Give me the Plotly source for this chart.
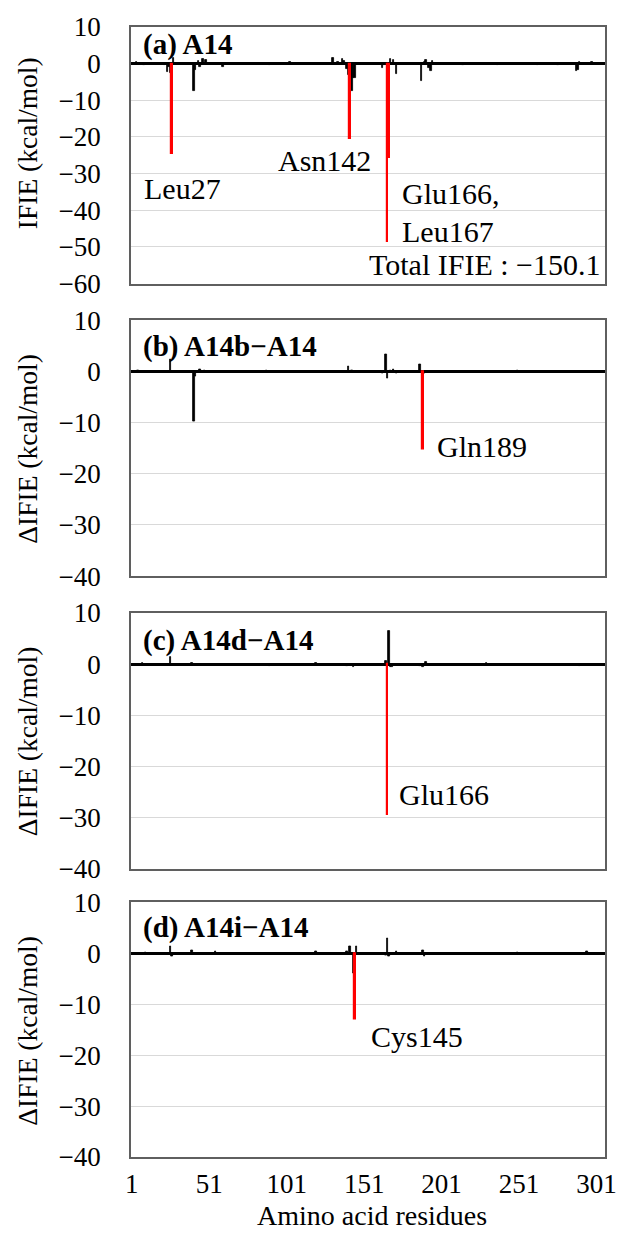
import plotly.graph_objects as go

# ---------------- data ----------------
n_residues = 306
x_ticks = [1, 51, 101, 151, 201, 251, 301]

# Panel (a) IFIE of A14
a_res = [4, 9, 19, 22, 24, 25, 26, 28, 41, 42, 44, 45, 47, 49, 60, 75, 90, 103, 118,
         131, 134, 137, 138, 140, 141, 143, 144, 145, 163, 164, 168, 170, 172,
         188, 190, 191, 193, 194, 195, 215, 237, 250, 263, 276, 288, 289, 290, 298]
a_val = [0.5, -0.3, 0.3, -0.5, -2.2, -0.8, -2.5, 1.5, -7.4, -1.8, 0.8, -1.0, 1.2, 0.9, -1.0, 0.3, -0.3, 0.4, 0.3,
         1.6, 0.4, 1.3, 0.8, -1.5, -3.0, -7.4, -3.8, -3.8, -1.1, -0.5, 1.3, 1.0, -2.9,
         -4.7, 0.4, 1.0, -1.2, -2.0, 0.8, -0.4, -0.5, 0.3, -0.3, -0.3, -2.0, -1.6, 0.5, 0.5]
a_hi_res = [27, 142, 166, 167]
a_hi_val = [-24.6, -20.5, -48.7, -25.8]

# Panel (b) A14b - A14
b_res = [5, 20, 26, 41, 42, 45, 48, 60, 88, 110, 141, 143, 163, 165, 166, 168, 170, 172, 187, 190, 250, 290]
b_val = [0.2, -0.2, 2.4, -9.8, -1.0, 0.5, 0.3, -0.2, 0.2, -0.2, 1.0, 0.3, -0.3, 3.3, -1.3, 0.3, 0.4, -0.3, 1.3, -0.4, 0.2, -0.2]
b_hi_res = [189]
b_hi_val = [-15.3]

# Panel (c) A14d - A14
c_res = [8, 26, 40, 60, 90, 120, 140, 144, 163, 165, 167, 168, 169, 187, 189, 191, 230, 290]
c_val = [0.2, 1.3, 0.3, -0.2, -0.3, 0.2, -0.3, -0.6, -0.2, 0.6, 6.5, -0.5, -0.6, -0.4, -0.5, 0.4, 0.2, -0.3]
c_hi_res = [166]
c_hi_val = [-29.5]

# Panel (d) A14i - A14
d_res = [10, 26, 27, 40, 55, 80, 100, 120, 140, 142, 144, 146, 165, 166, 167, 172, 189, 190, 250, 295]
d_val = [0.2, 1.3, -0.6, 0.5, 0.3, -0.3, -0.2, 0.3, 0.4, 1.3, -3.9, 1.3, -0.5, 2.9, -0.6, 0.3, 0.6, -0.6, 0.2, 0.3]
d_hi_res = [145]
d_hi_val = [-12.9]

panels = [
    dict(res=a_res, val=a_val, hres=a_hi_res, hval=a_hi_val, ymin=-60,
         title="(a) A14", ytitle="IFIE (kcal/mol)", dom=[0.7730, 1.0]),
    dict(res=b_res, val=b_val, hres=b_hi_res, hval=b_hi_val, ymin=-40,
         title="(b) A14b\u2212A14", ytitle="\u0394IFIE (kcal/mol)", dom=[0.5141, 0.7403]),
    dict(res=c_res, val=c_val, hres=c_hi_res, hval=c_hi_val, ymin=-40,
         title="(c) A14d\u2212A14", ytitle="\u0394IFIE (kcal/mol)", dom=[0.2553, 0.4814]),
    dict(res=d_res, val=d_val, hres=d_hi_res, hval=d_hi_val, ymin=-40,
         title="(d) A14i\u2212A14", ytitle="\u0394IFIE (kcal/mol)", dom=[0.0, 0.2253]),
]

FONT = "Times New Roman, Liberation Serif, DejaVu Serif, serif"
fig = go.Figure()
annotations = []
W, H = 629, 1235
ML, MR, MT, MB = 131, 13, 25, 78
plot_h = H - MT - MB
plot_w = W - ML - MR

title_y_px = [43, 345, 640, 927]
ytitle_y_px = [141, 447, 740, 1030]

for i, p in enumerate(panels):
    k = "" if i == 0 else str(i + 1)
    xa, ya = "x" + k, "y" + k
    fig.add_trace(go.Bar(x=p["res"], y=p["val"], xaxis=xa, yaxis=ya, width=1,
                         marker=dict(color="black", line=dict(color="black", width=0.8)),
                         showlegend=False))
    fig.add_trace(go.Bar(x=p["hres"], y=p["hval"], xaxis=xa, yaxis=ya, width=1,
                         marker=dict(color="#ff0000", line=dict(color="#ff0000", width=1.2)),
                         showlegend=False))
    last = (i == len(panels) - 1)
    fig.layout["xaxis" + k] = dict(
        domain=[0, 1], anchor=ya, range=[0.5, n_residues + 0.5],
        tickvals=x_ticks, showticklabels=last, ticks="", ticklabelstandoff=2,
        showgrid=False, zeroline=False,
        showline=True, mirror=True, linecolor="#5f5f5f", linewidth=1.5,
        tickfont=dict(family=FONT, size=27, color="black"),
        matches=None if i == 0 else "x",
    )
    fig.layout["yaxis" + k] = dict(
        domain=p["dom"], anchor=xa, range=[p["ymin"], 10], dtick=10,
        tickvals=list(range(p["ymin"], 11, 10)),
        showgrid=True, gridcolor="#d9d9d9", gridwidth=1,
        zeroline=True, zerolinecolor="black", zerolinewidth=3,
        showline=True, mirror=True, linecolor="#5f5f5f", linewidth=1.5,
        ticks="", ticklabelstandoff=23,
        tickfont=dict(family=FONT, size=27, color="black"),
    )
    annotations.append(dict(
        text="<b>" + p["title"] + "</b>", xref="paper", yref="paper",
        x=(141 - ML) / plot_w, y=(H - MB - title_y_px[i]) / plot_h,
        xanchor="left", yanchor="middle", showarrow=False,
        font=dict(family=FONT, size=29, color="black")))
    annotations.append(dict(
        text=p["ytitle"], xref="paper", yref="paper", textangle=-90,
        x=(25 - ML) / plot_w, y=(H - MB - ytitle_y_px[i]) / plot_h,
        xanchor="center", yanchor="middle", showarrow=False,
        font=dict(family=FONT, size=27.5, color="black")))

lab_font = dict(family=FONT, size=30, color="black")
labels = [
    ("x", "y", 7.4, -34.0, "Leu27"),
    ("x", "y", 93.9, -26.4, "Asn142"),
    ("x", "y", 174.0, -35.4, "Glu166,"),
    ("x", "y", 174.0, -45.8, "Leu167"),
    ("x", "y", 153.0, -54.8, "Total IFIE : \u2212150.1"),
    ("x2", "y2", 196.5, -14.6, "Gln189"),
    ("x3", "y3", 172.1, -25.6, "Glu166"),
    ("x4", "y4", 154.4, -16.4, "Cys145"),
]
for xr, yr, xv, yv, t in labels:
    annotations.append(dict(text=t, xref=xr, yref=yr, x=xv, y=yv, xanchor="left",
                            yanchor="middle", showarrow=False, font=lab_font))

annotations.append(dict(text="Amino acid residues", xref="paper", yref="paper",
                        x=(378 - ML) / plot_w, y=(H - MB - 1216) / plot_h,
                        xanchor="center", yanchor="middle",
                        showarrow=False, font=dict(family=FONT, size=28, color="black")))

fig.update_layout(
    width=W, height=H, margin=dict(l=ML, r=MR, t=MT, b=MB),
    plot_bgcolor="white", paper_bgcolor="white",
    barmode="overlay", bargap=0,
    annotations=annotations,
    font=dict(family=FONT, color="black"),
)

fig.write_html("out.html")
